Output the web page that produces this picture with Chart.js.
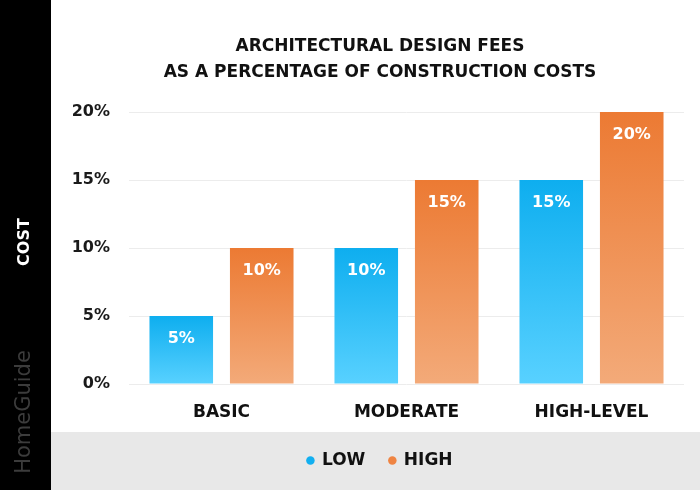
<!DOCTYPE html>
<html>
<head>
<meta charset="utf-8">
<title>Architectural design fees</title>
<script src="https://cdn.jsdelivr.net/npm/chart.js@4.4.1/dist/chart.umd.min.js"></script>
<style>
  html, body { margin: 0; padding: 0; background: #fff; }
  #wrap { width: 700px; height: 490px; }
</style>
</head>
<body>
<div id="wrap"><canvas id="chart" width="700" height="490"></canvas></div>
<script>
// donnees du graphique
const categories = ['BASIC', 'MODERATE', 'HIGH-LEVEL'];
const seriesNames = ['LOW', 'HIGH'];
const lowValues = [5, 10, 15];
const highValues = [10, 15, 20];
const yTicks = [0, 5, 10, 15, 20];
const titleLines = ['ARCHITECTURAL DESIGN FEES', 'AS A PERCENTAGE OF CONSTRUCTION COSTS'];
const sideLabel = 'COST';
const brandLabel = 'HomeGuide';

// couleurs
const blueTop = '#0eaeef', blueBottom = '#58d1ff';
const orangeTop = '#ec7a33', orangeBottom = '#f3aa79';
const legendColors = ['#12aff0', '#ef8442'];
const FONT = "'DejaVu Sans', sans-serif";

// degrade vertical pour chaque barre (haut fonce -> bas clair)
function barGradient(top, bottom) {
  return function (context) {
    const chart = context.chart;
    if (!chart.chartArea || context.type !== 'data') return top;
    const yScale = chart.scales.y;
    const yBase = yScale.getPixelForValue(0);
    const yTop = yScale.getPixelForValue(context.raw);
    const g = chart.ctx.createLinearGradient(0, yTop, 0, yBase);
    g.addColorStop(0, top);
    g.addColorStop(1, bottom);
    return g;
  };
}

// fond : bande noire a gauche, bande grise en bas
const backgroundPlugin = {
  id: 'backgroundPlugin',
  beforeDraw(chart) {
    const ctx = chart.ctx;
    ctx.save();
    ctx.fillStyle = '#ffffff';
    ctx.fillRect(0, 0, chart.width, chart.height);
    ctx.fillStyle = '#e8e8e8';
    ctx.fillRect(51, 432, chart.width - 51, chart.height - 432);
    ctx.fillStyle = '#000000';
    ctx.fillRect(0, 0, 51, chart.height);
    ctx.restore();
  },
  afterDraw(chart) {
    const ctx = chart.ctx;
    ctx.save();
    ctx.textAlign = 'center';
    ctx.textBaseline = 'middle';
    // COST
    ctx.translate(25, 242);
    ctx.rotate(-Math.PI / 2);
    ctx.fillStyle = '#ffffff';
    ctx.font = 'bold 16px ' + FONT;
    ctx.fillText(sideLabel, 0, 0);
    ctx.restore();
    // HomeGuide
    ctx.save();
    ctx.textAlign = 'center';
    ctx.textBaseline = 'middle';
    ctx.translate(25, 412);
    ctx.rotate(-Math.PI / 2);
    ctx.fillStyle = '#3c3c3c';
    ctx.font = '21px ' + FONT;
    ctx.fillText(brandLabel, 0, 0);
    ctx.restore();
  }
};

// etiquettes blanches dans le haut des barres
const valueLabels = {
  id: 'valueLabels',
  afterDatasetsDraw(chart) {
    const ctx = chart.ctx;
    ctx.save();
    ctx.fillStyle = '#ffffff';
    ctx.font = 'bold 16px ' + FONT;
    ctx.textAlign = 'center';
    ctx.textBaseline = 'middle';
    chart.data.datasets.forEach((ds, i) => {
      chart.getDatasetMeta(i).data.forEach((bar, j) => {
        ctx.fillText(ds.data[j] + '%', bar.x, bar.y + 23);
      });
    });
    ctx.restore();
  }
};

const ctx = document.getElementById('chart');

new Chart(ctx, {
  type: 'bar',
  data: {
    labels: categories,
    datasets: [{
      label: seriesNames[0],
      data: lowValues,
      backgroundColor: barGradient(blueTop, blueBottom),
      categoryPercentage: 0.87,
      barPercentage: 0.79
    }, {
      label: seriesNames[1],
      data: highValues,
      backgroundColor: barGradient(orangeTop, orangeBottom),
      categoryPercentage: 0.87,
      barPercentage: 0.79
    }]
  },
  options: {
    responsive: false,
    animation: false,
    events: [],
    layout: { padding: { left: 60, right: 0, top: 0, bottom: 11 } },
    scales: {
      x: {
        grid: { display: false, drawTicks: false },
        border: { display: false },
        ticks: { color: '#111', font: { family: FONT, size: 17, weight: 'bold' }, padding: 18 },
        afterFit(scale) { scale.height = 44; }
      },
      y: {
        min: 0,
        max: 20,
        afterBuildTicks(scale) { scale.ticks = yTicks.map(v => ({ value: v })); },
        grid: { color: '#ececec', lineWidth: 1, drawTicks: false },
        border: { display: false },
        ticks: {
          color: '#1a1a1a',
          font: { family: FONT, size: 16, weight: 'bold' },
          padding: 19,
          callback: v => v + '%'
        },
        afterFit(scale) { scale.width = 69; }
      },
      // axe invisible a droite pour reserver la marge
      y2: {
        position: 'right',
        display: true,
        grid: { display: false },
        border: { display: false },
        ticks: { display: false },
        afterFit(scale) { scale.width = 16; }
      }
    },
    plugins: {
      title: {
        display: true,
        text: titleLines,
        color: '#111',
        font: { family: FONT, size: 17, weight: 'bold', lineHeight: 1.53 },
        padding: { top: 34, bottom: 26 }
      },
      legend: {
        position: 'bottom',
        labels: {
          usePointStyle: true,
          pointStyle: 'circle',
          boxWidth: 6,
          boxHeight: 6,
          padding: 24,
          color: '#111',
          font: { family: FONT, size: 17, weight: 'bold' },
          generateLabels(chart) {
            const items = Chart.defaults.plugins.legend.labels.generateLabels(chart);
            items.forEach((it, i) => {
              it.fillStyle = legendColors[i];
              it.strokeStyle = legendColors[i];
              it.lineWidth = 0;
            });
            return items;
          }
        }
      },
      tooltip: { enabled: false }
    }
  },
  plugins: [backgroundPlugin, valueLabels]
});
</script>
</body>
</html>
